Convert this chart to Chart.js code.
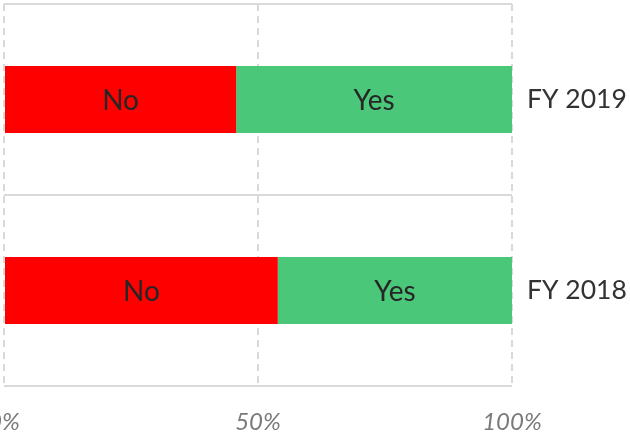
<!DOCTYPE html>
<html>
<head>
<meta charset="utf-8">
<script src="https://cdn.jsdelivr.net/npm/chart.js@4/dist/chart.umd.min.js"></script>
<style>
html,body{margin:0;padding:0;background:#fff;}
#wrap{position:absolute;left:0;top:0;width:630px;height:436px;}
</style>
</head>
<body>
<div id="wrap"><canvas id="c" width="630" height="436"></canvas></div>
<script>
const categories = ['FY 2019', 'FY 2018'];
const seriesNames = ['No', 'Yes'];
const noValues = [45.7, 53.9];
const yesValues = [54.3, 46.1];
const tickValues = [0, 50, 100];

const FONT = 'Lato, "Open Sans", sans-serif';

const barLabels = {
  id: 'barLabels',
  afterDatasetsDraw(chart) {
    const ctx = chart.ctx;
    ctx.save();
    ctx.font = '28px ' + FONT;
    ctx.fillStyle = '#262626';
    ctx.textAlign = 'center';
    ctx.textBaseline = 'middle';
    chart.data.datasets.forEach((ds, i) => {
      const meta = chart.getDatasetMeta(i);
      meta.data.forEach(el => {
        const p = el.getCenterPoint();
        ctx.fillText(ds.label, p.x, p.y + 1);
      });
    });
    ctx.restore();
  }
};

new Chart(document.getElementById('c'), {
  type: 'bar',
  data: {
    labels: categories,
    datasets: [
      { label: seriesNames[0], data: noValues, backgroundColor: '#FF0000', barPercentage: 0.35, categoryPercentage: 1 },
      { label: seriesNames[1], data: yesValues, backgroundColor: '#4BC77A', barPercentage: 0.35, categoryPercentage: 1 }
    ]
  },
  options: {
    indexAxis: 'y',
    responsive: false,
    animation: false,
    events: [],
    layout: { padding: { left: 4, top: 4, right: 0, bottom: 0 } },
    plugins: { legend: { display: false }, tooltip: { enabled: false } },
    scales: {
      x: {
        stacked: true,
        min: 0, max: 100,
        afterBuildTicks(scale) { scale.ticks = tickValues.map(v => ({ value: v })); },
        afterFit(scale) { scale.paddingLeft = 0; scale.paddingRight = 0; scale.height = 50; },
        grid: { color: '#d9d9d9', lineWidth: 2, drawTicks: false },
        border: { display: false, dash: [7, 5] },
        ticks: {
          padding: 22,
          color: '#7a7a7a',
          font: { family: FONT, size: 24, style: 'italic' },
          callback: v => v + '%',
          maxRotation: 0
        }
      },
      y: {
        stacked: true,
        position: 'right',
        afterFit(scale) { scale.width = 118; scale.paddingTop = 0; scale.paddingBottom = 0; },
        grid: { color: '#d9d9d9', lineWidth: 2, drawTicks: false, offset: true },
        border: { display: false },
        ticks: {
          padding: 15,
          color: '#333333',
          font: { family: FONT, size: 26.5 }
        }
      }
    }
  },
  plugins: [barLabels]
});
</script>
</body>
</html>
